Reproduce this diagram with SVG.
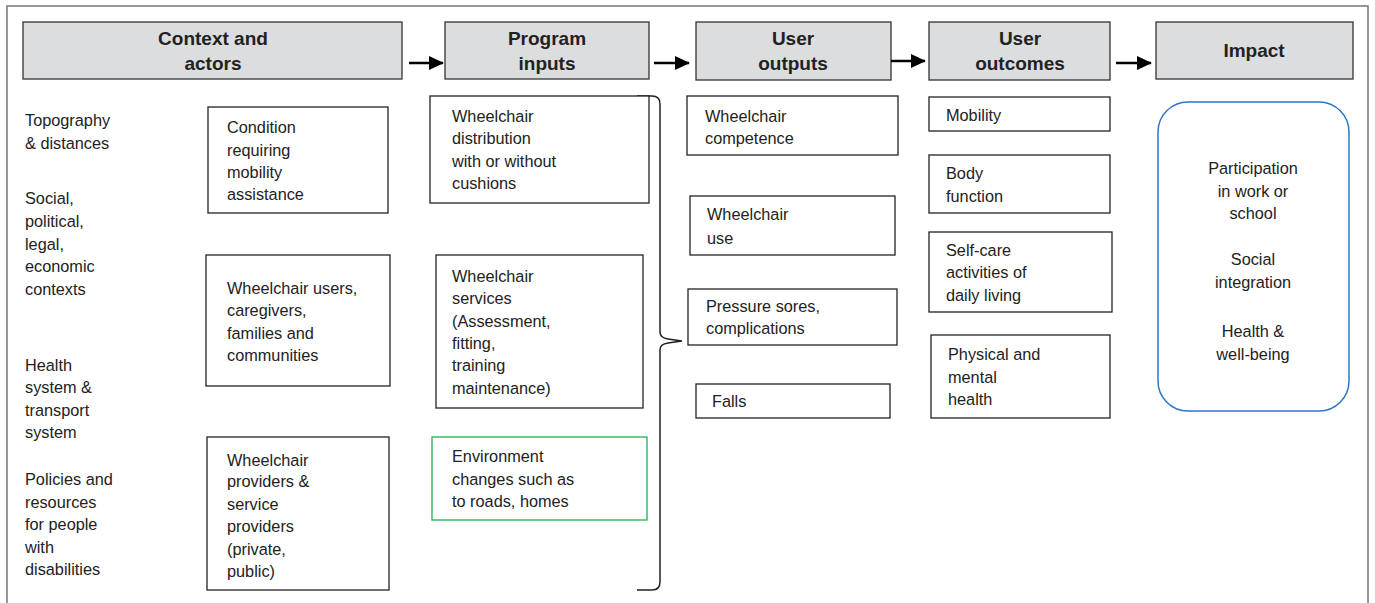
<svg xmlns="http://www.w3.org/2000/svg" width="1375" height="603" viewBox="0 0 1375 603">
<defs>
<style>
text{font-family:"Liberation Sans",Arial,sans-serif;font-size:16.3px;fill:#222}
.h{font-weight:bold;font-size:19px;text-anchor:middle}
.hb{fill:#dcdddf;stroke:#333;stroke-width:1.3}
.b{fill:#fff;stroke:#222;stroke-width:1.3}
.c{text-anchor:middle}
.ar{stroke:#000;stroke-width:2.5;fill:none;marker-end:url(#ah)}
</style>
<marker id="ah" markerWidth="15" markerHeight="14" refX="14" refY="7" orient="auto" markerUnits="userSpaceOnUse" viewBox="0 0 15 14">
<path d="M0,0 L15,7 L0,14 z" fill="#000"/>
</marker>
</defs>
<rect width="1375" height="603" fill="#fff"/>
<rect x="7" y="6" width="1361" height="620" fill="none" stroke="#777" stroke-width="1.5"/>

<g id="h-context"><rect class="hb" x="23" y="22" width="379" height="57"/><text class="h" x="213" y="45">Context and</text><text class="h" x="213" y="70">actors</text></g>
<g id="h-inputs"><rect class="hb" x="445" y="22" width="204" height="57"/><text class="h" x="547" y="45">Program</text><text class="h" x="547" y="70">inputs</text></g>
<g id="h-outputs"><rect class="hb" x="696" y="22" width="195" height="58"/><text class="h" x="793" y="45">User</text><text class="h" x="793" y="70">outputs</text></g>
<g id="h-outcomes"><rect class="hb" x="929" y="22" width="181" height="58"/><text class="h" x="1020" y="45">User</text><text class="h" x="1020" y="70">outcomes</text></g>
<g id="h-impact"><rect class="hb" x="1156" y="22" width="197" height="57"/><text class="h" x="1254" y="57">Impact</text></g>

<g id="connectors">
<line class="ar" x1="409" y1="63" x2="443" y2="63"/>
<line class="ar" x1="654" y1="63" x2="689" y2="63"/>
<line class="ar" x1="891" y1="61" x2="925" y2="61"/>
<line class="ar" x1="1116" y1="63" x2="1151" y2="63"/>
<path d="M637,96 L652,96 Q660,96 660,104 L660,332 Q660,338 668,339 L682,341 L668,343 Q660,344 660,350 L660,582 Q660,590 652,590 L637,590" fill="none" stroke="#222" stroke-width="1.5"/>
</g>

<g id="context-labels">
<text x="25" y="126">Topography</text><text x="25" y="149">&amp; distances</text>
<text x="25" y="204">Social,</text><text x="25" y="227">political,</text><text x="25" y="250">legal,</text><text x="25" y="272">economic</text><text x="25" y="295">contexts</text>
<text x="25" y="371">Health</text><text x="25" y="393">system &amp;</text><text x="25" y="416">transport</text><text x="25" y="438">system</text>
<text x="25" y="485">Policies and</text><text x="25" y="508">resources</text><text x="25" y="530">for people</text><text x="25" y="553">with</text><text x="25" y="575">disabilities</text>
</g>

<g id="n-condition"><rect class="b" x="208" y="107" width="180" height="106"/><text x="227" y="133">Condition</text><text x="227" y="156">requiring</text><text x="227" y="178">mobility</text><text x="227" y="200">assistance</text></g>
<g id="n-users"><rect class="b" x="206" y="255" width="184" height="131"/><text x="227" y="294">Wheelchair users,</text><text x="227" y="316">caregivers,</text><text x="227" y="339">families and</text><text x="227" y="361">communities</text></g>
<g id="n-providers"><rect class="b" x="207" y="437" width="182" height="153"/><text x="227" y="466">Wheelchair</text><text x="227" y="487">providers &amp;</text><text x="227" y="510">service</text><text x="227" y="532">providers</text><text x="227" y="555">(private,</text><text x="227" y="577">public)</text></g>

<g id="n-distribution"><rect class="b" x="430" y="96" width="219" height="107"/><text x="452" y="122">Wheelchair</text><text x="452" y="144">distribution</text><text x="452" y="167">with or without</text><text x="452" y="189">cushions</text></g>
<g id="n-services"><rect class="b" x="436" y="255" width="207" height="153"/><text x="452" y="282">Wheelchair</text><text x="452" y="304">services</text><text x="452" y="327">(Assessment,</text><text x="452" y="349">fitting,</text><text x="452" y="371">training</text><text x="452" y="394">maintenance)</text></g>
<g id="n-environment"><rect x="432" y="437" width="215" height="83" fill="#fff" stroke="#1db34a" stroke-width="1.3"/><text x="452" y="462">Environment</text><text x="452" y="485">changes such as</text><text x="452" y="507">to roads, homes</text></g>

<g id="n-competence"><rect class="b" x="687" y="96" width="211" height="59"/><text x="705" y="122">Wheelchair</text><text x="705" y="144">competence</text></g>
<g id="n-use"><rect class="b" x="690" y="196" width="205" height="59"/><text x="707" y="220">Wheelchair</text><text x="707" y="244">use</text></g>
<g id="n-sores"><rect class="b" x="688" y="289" width="209" height="56"/><text x="706" y="312">Pressure sores,</text><text x="706" y="334">complications</text></g>
<g id="n-falls"><rect class="b" x="696" y="384" width="194" height="34"/><text x="712" y="407">Falls</text></g>

<g id="n-mobility"><rect class="b" x="929" y="97" width="181" height="34"/><text x="946" y="121">Mobility</text></g>
<g id="n-body"><rect class="b" x="929" y="155" width="181" height="58"/><text x="946" y="179">Body</text><text x="946" y="202">function</text></g>
<g id="n-selfcare"><rect class="b" x="929" y="232" width="183" height="80"/><text x="946" y="256">Self-care</text><text x="946" y="278">activities of</text><text x="946" y="301">daily living</text></g>
<g id="n-health"><rect class="b" x="931" y="335" width="179" height="83"/><text x="948" y="360">Physical and</text><text x="948" y="383">mental</text><text x="948" y="405">health</text></g>

<g id="n-impact"><rect x="1158" y="102" width="191" height="309" rx="30" ry="30" fill="#fff" stroke="#2e75c6" stroke-width="1.5"/>
<text class="c" x="1253" y="174">Participation</text><text class="c" x="1253" y="197">in work or</text><text class="c" x="1253" y="219">school</text>
<text class="c" x="1253" y="265">Social</text><text class="c" x="1253" y="288">integration</text>
<text class="c" x="1253" y="337">Health &amp;</text><text class="c" x="1253" y="360">well-being</text></g>
</svg>
